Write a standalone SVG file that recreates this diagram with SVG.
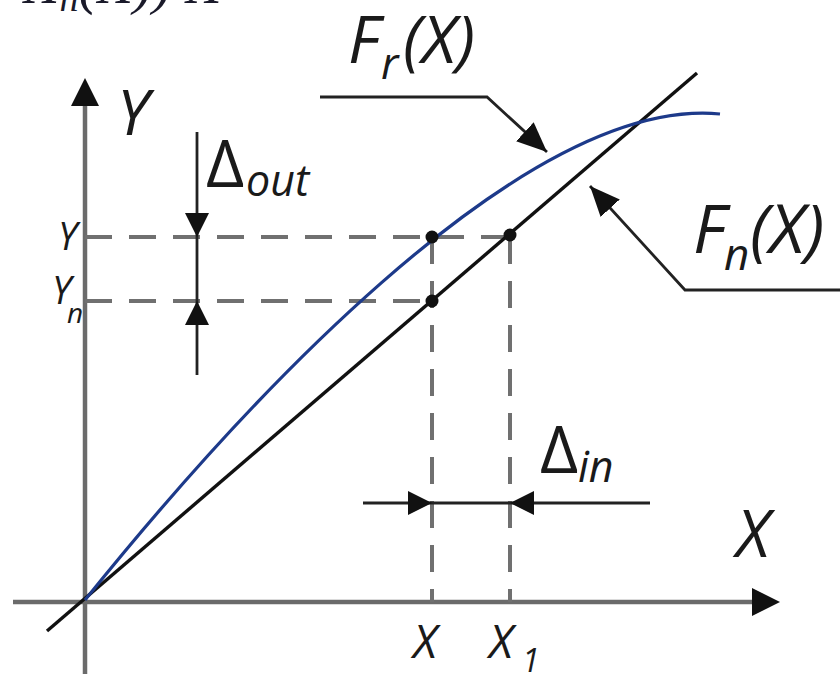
<svg xmlns="http://www.w3.org/2000/svg" width="840" height="674" viewBox="0 0 840 674">
  <style>
    .axis { stroke: #6b6b6b; stroke-width: 4.5; fill: none; }
    .dash { stroke: #707070; stroke-width: 4; fill: none; stroke-dasharray: 27 17; }
    .lin { stroke: #111; stroke-width: 3.4; fill: none; }
    .real { stroke: #1d3a8a; stroke-width: 3.2; fill: none; }
    .lead { stroke: #222; stroke-width: 2.8; fill: none; }
    .lbl { font-family: "Open Sans", "DejaVu Sans", sans-serif; font-style: italic; fill: #1a1a1a; }
    .up { font-family: "Open Sans", "DejaVu Sans", sans-serif; font-style: normal; fill: #1a1a1a; }
  </style>
  <defs>
    <marker id="axHead" viewBox="0 0 28 28" refX="0" refY="14" markerWidth="28" markerHeight="28" markerUnits="userSpaceOnUse" orient="auto">
      <path d="M0,0 L28,14 L0,28 z" fill="#111"/>
    </marker>
    <marker id="smHead" viewBox="0 0 24 24" refX="24" refY="12" markerWidth="24" markerHeight="24" markerUnits="userSpaceOnUse" orient="auto">
      <path d="M0,0 L24,12 L0,24 z" fill="#111"/>
    </marker>
    <marker id="ldHead" viewBox="0 0 30 26" refX="30" refY="13" markerWidth="30" markerHeight="26" markerUnits="userSpaceOnUse" orient="auto">
      <path d="M0,0 L30,13 L0,26 z" fill="#111"/>
    </marker>
  </defs>

  <!-- cropped text at top edge -->
  <text x="24" y="3" font-family="Liberation Serif, serif" font-style="italic" font-size="58" fill="#1a1a2a">X<tspan font-size="38" dy="8">n</tspan><tspan dy="-8">(X)) X</tspan></text>

  <g id="axes">
    <line class="axis" x1="85" y1="674" x2="85" y2="106" marker-end="url(#axHead)"/>
    <line class="axis" x1="13" y1="602" x2="752" y2="602" marker-end="url(#axHead)"/>
  </g>

  <g id="guides">
    <path class="dash" d="M85,237 H510"/>
    <path class="dash" d="M85,301 H432"/>
    <path class="dash" d="M432,237 V602"/>
    <path class="dash" d="M510,237 V602"/>
  </g>

  <g id="curves">
    <line id="Fn-line" class="lin" x1="47" y1="631" x2="697" y2="73"/>
    <path id="Fr-curve" class="real" d="M85,600 C230,420 520,95 720,114"/>
  </g>

  <g id="points" fill="#111">
    <circle cx="432" cy="237" r="6.5"/>
    <circle cx="510" cy="235" r="6.5"/>
    <circle cx="432" cy="301" r="6.5"/>
  </g>

  <g id="connectors">
    <line class="lead" x1="197" y1="132" x2="197" y2="237" marker-end="url(#smHead)"/>
    <line class="lead" x1="197" y1="237" x2="197" y2="301"/>
    <line class="lead" x1="197" y1="375" x2="197" y2="301" marker-end="url(#smHead)"/>
    <line class="lead" x1="363" y1="503" x2="432" y2="503" marker-end="url(#smHead)"/>
    <line class="lead" x1="432" y1="503" x2="510" y2="503"/>
    <line class="lead" x1="650" y1="503" x2="510" y2="503" marker-end="url(#smHead)"/>
    <polyline class="lead" points="320,97 487,97 547,152" marker-end="url(#ldHead)"/>
    <polyline class="lead" points="840,290 685,290 590,186" marker-end="url(#ldHead)"/>
  </g>

  <g id="labels">
    <text class="lbl" x="117" y="135" font-size="63">Y</text>
    <g id="label-Fr"><text class="lbl" font-size="66"><tspan x="348" y="63">F</tspan><tspan x="381" y="79" font-size="44">r</tspan><tspan x="403" y="63">(X)</tspan></text></g>
    <g id="label-Fn"><text class="lbl" font-size="68"><tspan x="693" y="253">F</tspan><tspan x="724" y="270" font-size="44">n</tspan><tspan x="750" y="253">(X)</tspan></text></g>
    <g id="label-dout"><text class="up" x="206" y="187" font-size="66">Δ</text><text class="lbl" x="246" y="196" font-size="43">out</text></g>
    <g id="label-din"><text class="up" x="540" y="473" font-size="66">Δ</text><text class="lbl" x="578" y="482" font-size="43">in</text></g>
    <text class="lbl" x="736" y="557" font-size="65">X</text>
    <text class="lbl" x="413" y="658" font-size="46">X</text>
    <text class="lbl" font-size="46"><tspan x="489" y="658">X</tspan><tspan x="522" y="672" font-size="32">1</tspan></text>
    <text class="lbl" x="58" y="250" font-size="38">Y</text>
    <text class="lbl" font-size="38"><tspan x="52" y="304">Y</tspan><tspan x="67" y="323" font-size="28">n</tspan></text>
  </g>
</svg>
